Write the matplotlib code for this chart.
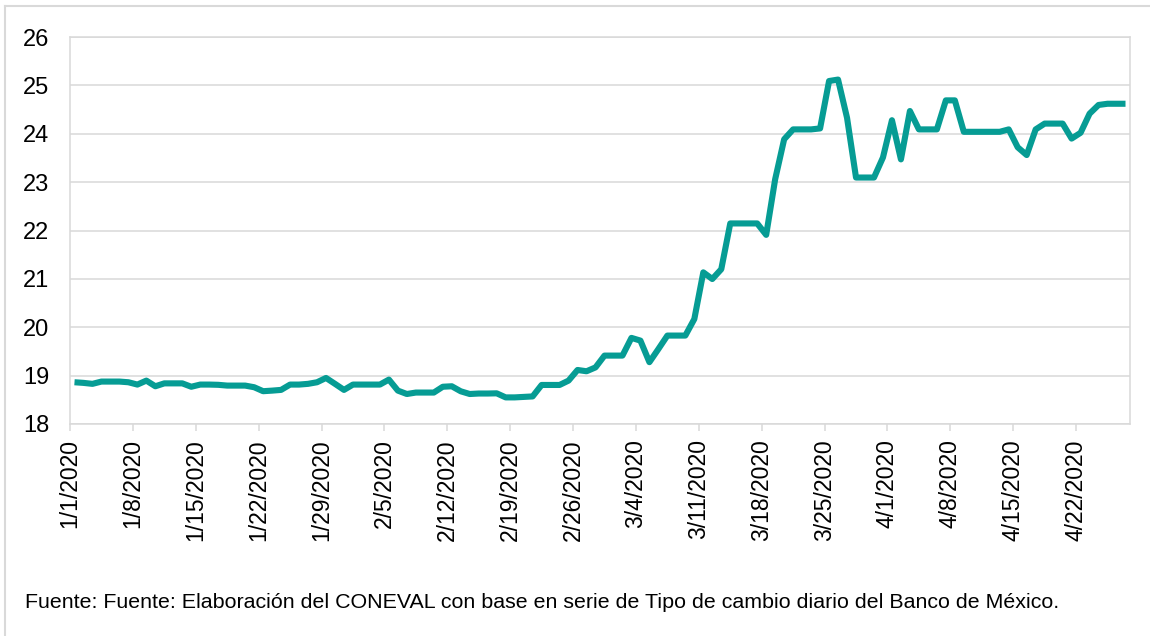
import matplotlib
matplotlib.use("Agg")
import matplotlib.pyplot as plt
from matplotlib.lines import Line2D
import pandas as pd

# Daily exchange rate (pesos per dollar), 1/1/2020 .. 4/27/2020
rates = [
    18.863, 18.85, 18.83, 18.877, 18.877, 18.877, 18.863, 18.815, 18.897, 18.78,
    18.84, 18.84, 18.84, 18.77, 18.815, 18.815, 18.81, 18.794, 18.794, 18.794,
    18.76, 18.678, 18.69, 18.705, 18.815, 18.815, 18.83, 18.863, 18.952, 18.83,
    18.705, 18.815, 18.815, 18.815, 18.815, 18.918, 18.69, 18.62, 18.65, 18.65,
    18.65, 18.77, 18.78, 18.676, 18.62, 18.63, 18.63, 18.634, 18.55, 18.55,
    18.56, 18.57, 18.807, 18.807, 18.807, 18.897, 19.117, 19.09, 19.17, 19.414,
    19.414, 19.414, 19.78, 19.724, 19.278, 19.55, 19.828, 19.828, 19.828, 20.17,
    21.135, 20.997, 21.2, 22.146, 22.146, 22.146, 22.146, 21.91, 23.06, 23.886,
    24.09, 24.09, 24.09, 24.11, 25.09, 25.12, 24.33, 23.095, 23.095, 23.095,
    23.51, 24.28, 23.47, 24.47, 24.09, 24.09, 24.09, 24.69, 24.69, 24.04,
    24.04, 24.04, 24.04, 24.04, 24.09, 23.72, 23.56, 24.09, 24.21, 24.21,
    24.21, 23.9, 24.02, 24.415, 24.595, 24.62, 24.62, 24.62,
]
start_date = "2020-01-01"
end_date = "2020-04-28"
y_ticks = [18, 19, 20, 21, 22, 23, 24, 25, 26]
source_text = ("Fuente: Fuente: Elaboración del CONEVAL con base en serie de "
               "Tipo de cambio diario del Banco de México.")

# each daily value is centred in its day (Excel "between tick marks")
dates = pd.date_range(start_date + " 12:00", periods=len(rates), freq="D")
week_ticks = pd.date_range(start_date, end_date, freq="7D")

plt.rcParams["font.family"] = ["Liberation Sans", "DejaVu Sans"]

W, H = 1150, 636
fig = plt.figure(figsize=(W / 100, H / 100), dpi=100)
ax = fig.add_axes([70 / W, 1 - 424 / H, (1130 - 70) / W, (424 - 37) / H])

grid_c = "#d9d9d9"
ax.plot(dates, rates, color="#069C94", lw=4.4, solid_joinstyle="round",
        solid_capstyle="butt", zorder=3)

ax.set_xlim(pd.Timestamp(start_date), pd.Timestamp(end_date))
ax.set_ylim(18, 26)
ax.set_yticks(y_ticks)
ax.set_yticklabels([str(v) for v in y_ticks])
ax.set_xticks(week_ticks)
ax.set_xticklabels([f"{d.month}/{d.day}/{d.year}" for d in week_ticks],
                   rotation=90)

ax.grid(axis="y", color=grid_c, lw=1.1, zorder=0)
for s in ax.spines.values():
    s.set_color(grid_c)
    s.set_linewidth(1.1)

ax.tick_params(axis="y", length=0, pad=15, labelsize=17, labelcolor="black")
ax.tick_params(axis="x", length=5, width=1.1, color=grid_c, pad=6,
               labelsize=16.5, labelcolor="black")

fig.text(25 / W, 1 - 603 / H, source_text, fontsize=15.4, ha="left",
         va="center", color="black")

# outer frame (left and top edges visible)
fig.add_artist(Line2D([5 / W, 5 / W], [0, 1 - 6 / H], transform=fig.transFigure,
                      color=grid_c, lw=1.5))
fig.add_artist(Line2D([5 / W, 1], [1 - 6 / H, 1 - 6 / H], transform=fig.transFigure,
                      color=grid_c, lw=1.5))

fig.savefig("out.png", dpi=100, facecolor="white")
